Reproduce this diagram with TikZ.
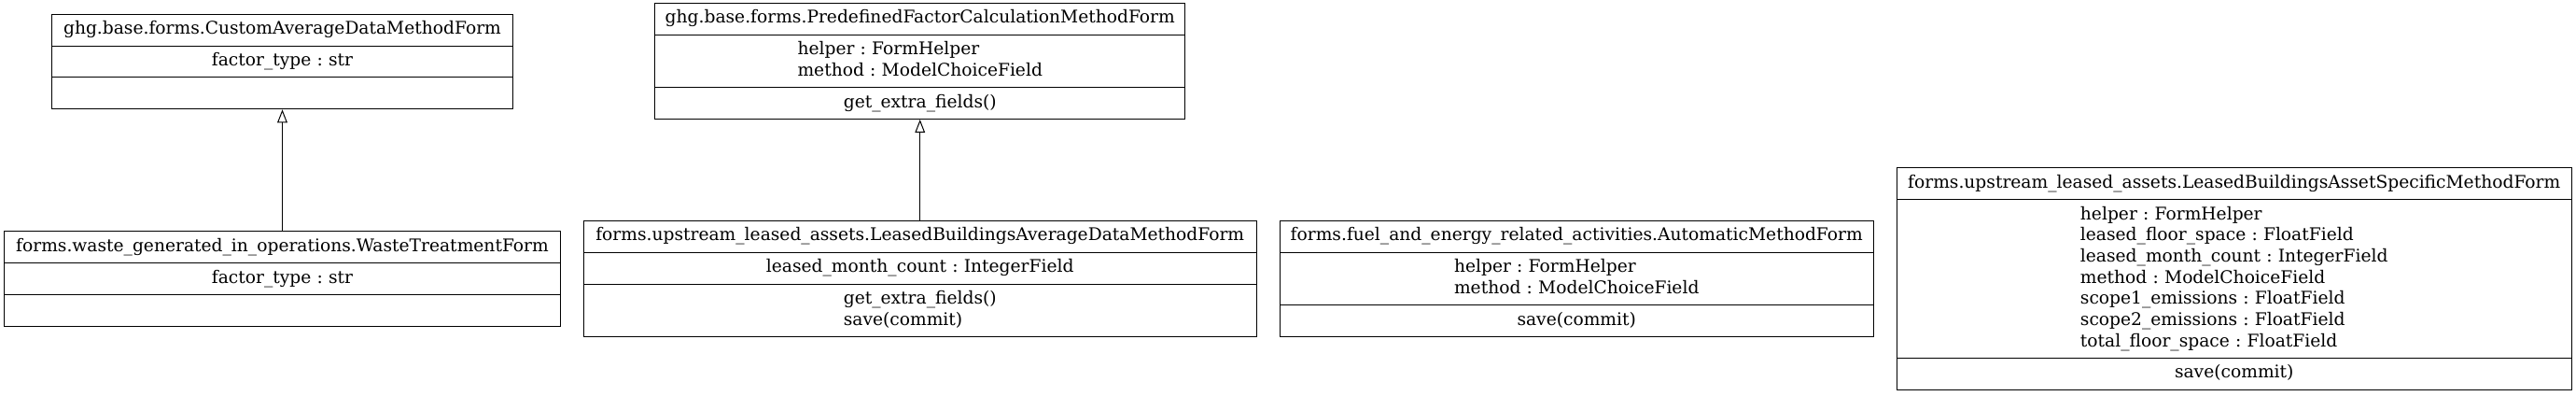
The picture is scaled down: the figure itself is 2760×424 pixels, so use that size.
\documentclass[tikz,border=0pt]{standalone}
\usepackage{fontspec}
\setmainfont{DejaVu Serif}
\usetikzlibrary{positioning, shapes.multipart, arrows.meta}
\newcommand{\rows}[1]{\begin{tabular}{@{}l@{}}#1\end{tabular}}

\begin{document}
\frenchspacing
\begin{tikzpicture}[x=0.75pt, y=0.75pt, node distance={18pt}, line width=0.75pt,
    main/.style = {draw, rectangle split, rectangle split parts=3, align=center, font=\fontsize{14}{17}\selectfont, inner xsep=8.25pt, inner ysep=3.8pt},
    inherit/.style = {-{Triangle[open, length=10.5pt, width=8pt]}}]
    \useasboundingbox (0,0) rectangle (2760,-424);
    \node[main, text width=430.1pt] (2) at (302.5,-298.5) {forms.waste\_generated\_in\_operations.WasteTreatmentForm\strut
        \nodepart{second} factor\_type : str\strut
        \nodepart{third} \strut};
    \node[main, text width=354pt] (1) [above=97.5pt of 2] {ghg.base.forms.CustomAverageDataMethodForm\strut
        \nodepart{second} factor\_type : str\strut
        \nodepart{third} \strut};
    \node[main, text width=524.25pt] (4) [right=of 2] {forms.upstream\_leased\_assets.LeasedBuildingsAverageDataMethodForm\strut
        \nodepart{second} leased\_month\_count : IntegerField\strut
        \nodepart{third} \rows{get\_extra\_fields()\\ save(commit)}};
    \node[main, text width=409.5pt] (3) [above=81pt of 4] {ghg.base.forms.PredefinedFactorCalculationMethodForm\strut
        \nodepart{second} \rows{helper : FormHelper\\ method : ModelChoiceField}
        \nodepart{third} get\_extra\_fields()\strut};
    \node[main, text width=460.5pt] (5) [right=of 4] {forms.fuel\_and\_energy\_related\_activities.AutomaticMethodForm\strut
        \nodepart{second} \rows{helper : FormHelper\\ method : ModelChoiceField}
        \nodepart{third} save(commit)\strut};
    \node[main, text width=525.75pt] (6) [right=of 5] {forms.upstream\_leased\_assets.LeasedBuildingsAssetSpecificMethodForm\strut
        \nodepart{second} \rows{helper : FormHelper\\ leased\_floor\_space : FloatField\\ leased\_month\_count : IntegerField\\ method : ModelChoiceField\\ scope1\_emissions : FloatField\\ scope2\_emissions : FloatField\\ total\_floor\_space : FloatField}
        \nodepart{third} save(commit)\strut};
    \draw[inherit] (2) -- (1);
    \draw[inherit] (4) -- (3);
\end{tikzpicture}
\end{document}
